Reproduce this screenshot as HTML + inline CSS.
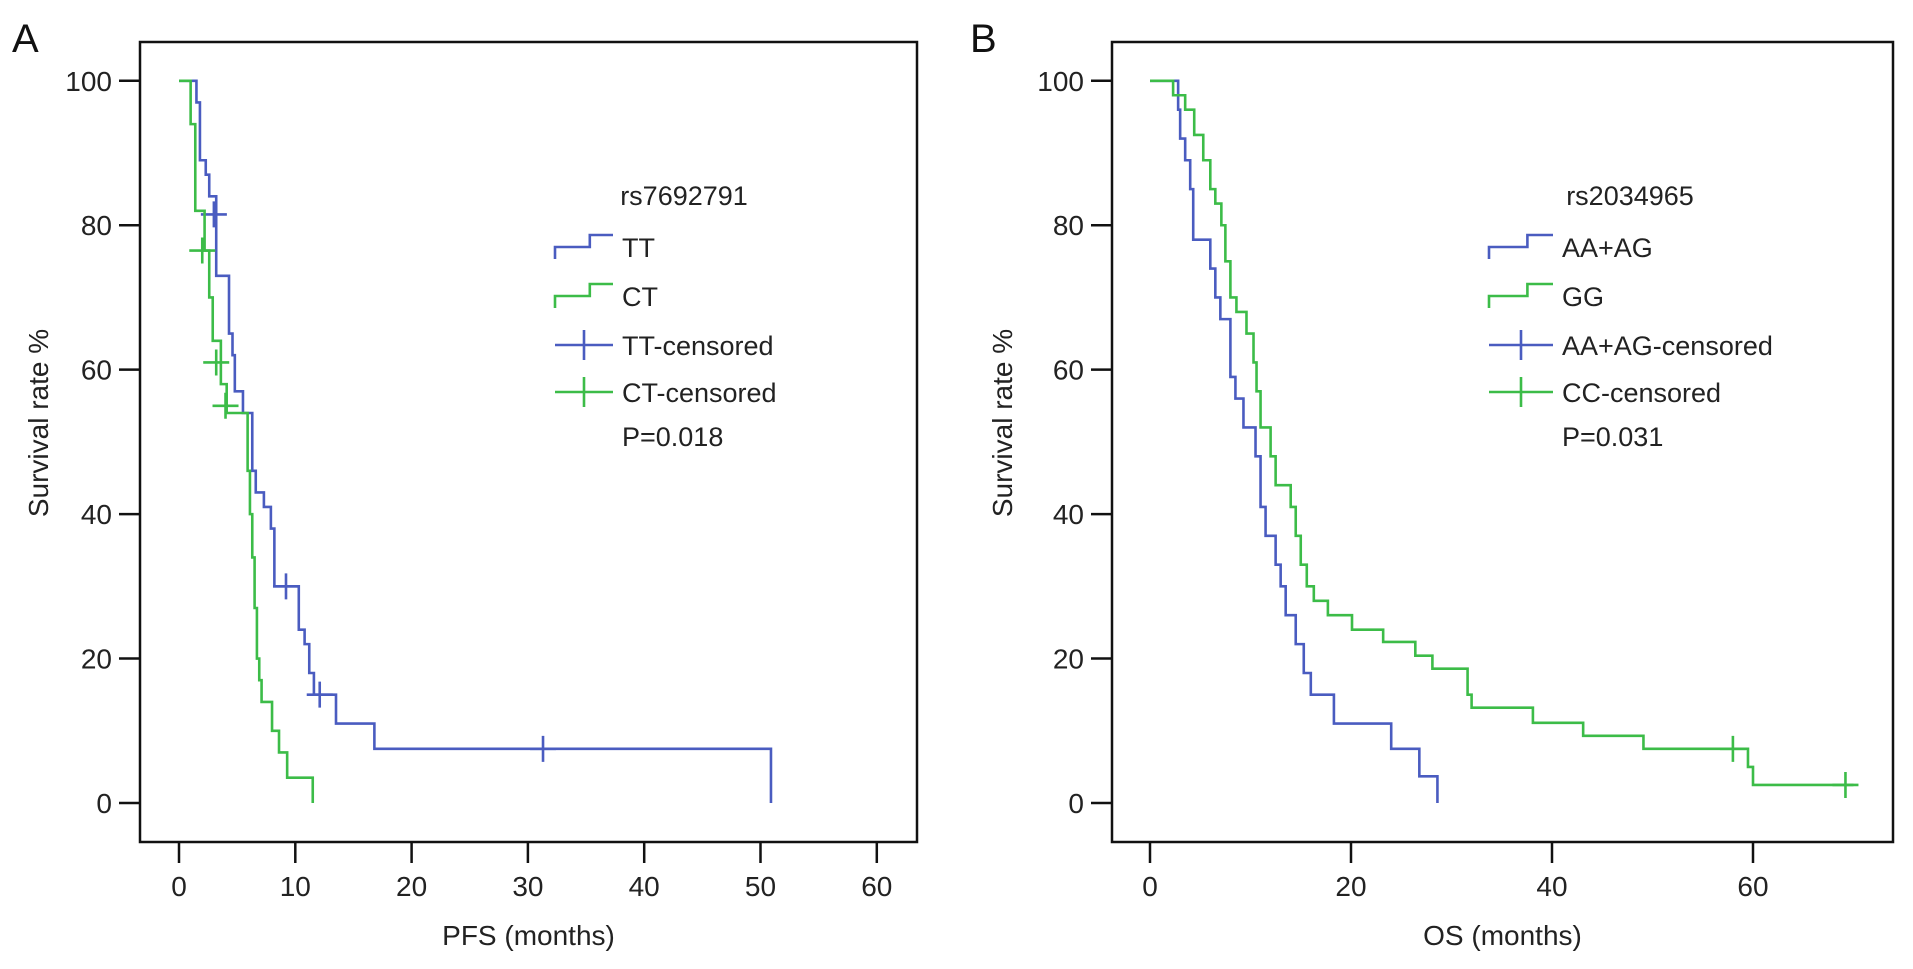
<!DOCTYPE html>
<html><head><meta charset="utf-8"><style>
body{margin:0;background:#fff;}
svg{display:block;font-family:"Liberation Sans",Arial,sans-serif;}
</style></head><body>
<svg id="chart" width="1913" height="969" viewBox="0 0 1913 969"></svg>
<script>
// Panel A data (PFS)
const aTTTimes = [1.5,1.8,2.3,2.6,3.2,4.3,4.6,4.8,5.5,6.3,6.6,7.3,7.9,8.2,10.3,10.8,11.2,11.6,13.5,16.8,50.9];
const aTTSurv  = [97,89,87,84,73,65,62,57,54,46,43,41,38,30,24,22,18,15,11,7.5,0];
const aTTCensT = [3,9.2,12.1,31.3];
const aTTCensS = [81.5,30,15,7.5];
const aCTTimes = [1.0,1.4,2.2,2.6,2.9,3.6,4.1,5.9,6.1,6.3,6.5,6.7,6.9,7.1,8.0,8.6,9.3,11.5];
const aCTSurv  = [94,82,76.5,70,64,58,54,46,40,34,27,20,17,14,10,7,3.5,0];
const aCTCensT = [2.0,3.2,4.0];
const aCTCensS = [76.5,61,55];
// Panel B data (OS)
const bAATimes = [2.8,3.0,3.5,4.0,4.3,6.0,6.5,7.0,8.0,8.5,9.3,10.5,11.0,11.5,12.5,13.0,13.5,14.5,15.3,16.0,18.3,24.0,26.8,28.6];
const bAASurv  = [96,92,89,85,78,74,70,67,59,56,52,48,41,37,33,30,26,22,18,15,11,7.5,3.7,0];
const bGGTimes = [2.3,3.5,4.4,5.3,6.0,6.5,7.1,7.5,8.0,8.6,9.6,10.3,10.6,11.0,12.0,12.5,14.0,14.5,15.0,15.6,16.3,17.7,20.1,23.2,26.4,28.1,31.6,32.0,38.1,43.1,49.1,59.5,60.0];
const bGGSurv  = [98,96,92.5,89,85,83,80,75,70,68,65,61,57,52,48,44,41,37,33,30,28,26,24,22.3,20.4,18.6,15,13.2,11.1,9.3,7.5,5,2.5];
const bGGCensT = [58,69.2];
const bGGCensS = [7.5,2.5];
const bGGEnd = 70;
const xTicksA = [0,10,20,30,40,50,60];
const xTicksB = [0,20,40,60];
const yTicks = [0,20,40,60,80,100];

const BLUE="#4a5cc0", GREEN="#3cbc48";
const svg=document.getElementById('chart');
const NS="http://www.w3.org/2000/svg";
function mk(tag,attrs,parent){const e=document.createElementNS(NS,tag);for(const k in attrs)e.setAttribute(k,attrs[k]);(parent||svg).appendChild(e);return e;}
function txt(s,attrs,parent){const e=mk('text',attrs,parent);e.textContent=s;return e;}

function panel(cfg){
  const g=mk('g',{});
  
  
  const sx=t=>cfg.x0+t*cfg.px, sy=v=>803-(v/100)*722.2;
  const fr=mk('rect',{x:cfg.left,y:42,width:cfg.right-cfg.left,height:800,fill:'none',stroke:'#111','stroke-width':2.5},g);
  
  const lab=txt(cfg.letter,{x:cfg.letterX,y:52,'font-size':40,fill:'#111'},g);
  
  yTicks.forEach(v=>{
    mk('line',{x1:cfg.left-21,x2:cfg.left,y1:sy(v),y2:sy(v),stroke:'#111','stroke-width':2.5},g);
    const t=txt(String(v),{x:cfg.left-28,y:sy(v)+10,'font-size':28,'text-anchor':'end',fill:'#222'},g);
    
  });
  cfg.xticks.forEach(v=>{
    mk('line',{x1:sx(v),x2:sx(v),y1:842,y2:863,stroke:'#111','stroke-width':2.5},g);
    const t=txt(String(v),{x:sx(v),y:896,'font-size':28,'text-anchor':'middle',fill:'#222'},g);
    
  });
  const xt=txt(cfg.xtitle,{x:(cfg.left+cfg.right)/2,y:945,'font-size':28,'text-anchor':'middle',fill:'#222'},g);
  
  const yt=txt('Survival rate %',{x:0,y:0,'font-size':28,'text-anchor':'middle',fill:'#222',transform:`translate(${cfg.ytX},423) rotate(-90)`},g);
  
  cfg.series.forEach(s=>{
    let d=`M${sx(0)},${sy(100)}`;
    s.t.forEach((t,i)=>{d+=` H${sx(t)} V${sy(s.s[i])}`;});
    if(s.end!==undefined)d+=` H${sx(s.end)}`;
    const p=mk('path',{d,fill:'none',stroke:s.color,'stroke-width':2.6},g);
    
    (s.ct||[]).forEach((t,i)=>{
      const c=mk('path',{d:`M${sx(t)-13},${sy(s.cs[i])} h26 M${sx(t)},${sy(s.cs[i])-13} v26`,stroke:s.color,'stroke-width':2.6},g);
      
    });
  });
  const lg=mk('g',{},g);
  
  txt(cfg.legTitle,{x:cfg.legTitleX,y:205,'font-size':27,'text-anchor':'middle',fill:'#222'},lg);
  const L=cfg.legX, W=cfg.legW, T=cfg.legT;
  const rows=[247,296,345,392];
  cfg.legend.forEach((e,i)=>{
    const y=rows[i];
    const it=mk('g',{},lg);
    
    if(e.type==='line') mk('path',{d:`M${L},${y+12} V${y} H${L+W*0.6} V${y-12} H${L+W}`,fill:'none',stroke:e.color,'stroke-width':2.6},it);
    else mk('path',{d:`M${L},${y} H${L+W} M${L+W/2},${y-15} V${y+15}`,fill:'none',stroke:e.color,'stroke-width':2.6},it);
    txt(e.label,{x:T,y:y+10,'font-size':27,fill:'#222'},it);
  });
  txt(cfg.p,{x:T,y:446,'font-size':27,fill:'#222'},lg);
}

panel({name:'panel-a-pfs',letter:'A',letterX:12,left:140,right:917,x0:179,px:11.63,xticks:xTicksA,xtitle:'PFS (months)',ytX:48,
  series:[{name:'tt',color:BLUE,t:aTTTimes,s:aTTSurv,ct:aTTCensT,cs:aTTCensS},
          {name:'ct',color:GREEN,t:aCTTimes,s:aCTSurv,ct:aCTCensT,cs:aCTCensS}],
  legTitle:'rs7692791',legTitleX:684,legX:555,legW:58,legT:622,
  legend:[{type:'line',color:BLUE,label:'TT'},{type:'line',color:GREEN,label:'CT'},{type:'cens',color:BLUE,label:'TT-censored'},{type:'cens',color:GREEN,label:'CT-censored'}],
  p:'P=0.018'});
panel({name:'panel-b-os',letter:'B',letterX:970,left:1112,right:1893,x0:1150,px:10.05,xticks:xTicksB,xtitle:'OS (months)',ytX:1012,
  series:[{name:'aa-ag',color:BLUE,t:bAATimes,s:bAASurv},
          {name:'gg',color:GREEN,t:bGGTimes,s:bGGSurv,ct:bGGCensT,cs:bGGCensS,end:bGGEnd}],
  legTitle:'rs2034965',legTitleX:1630,legX:1489,legW:64,legT:1562,
  legend:[{type:'line',color:BLUE,label:'AA+AG'},{type:'line',color:GREEN,label:'GG'},{type:'cens',color:BLUE,label:'AA+AG-censored'},{type:'cens',color:GREEN,label:'CC-censored'}],
  p:'P=0.031'});
</script>
</body></html>
